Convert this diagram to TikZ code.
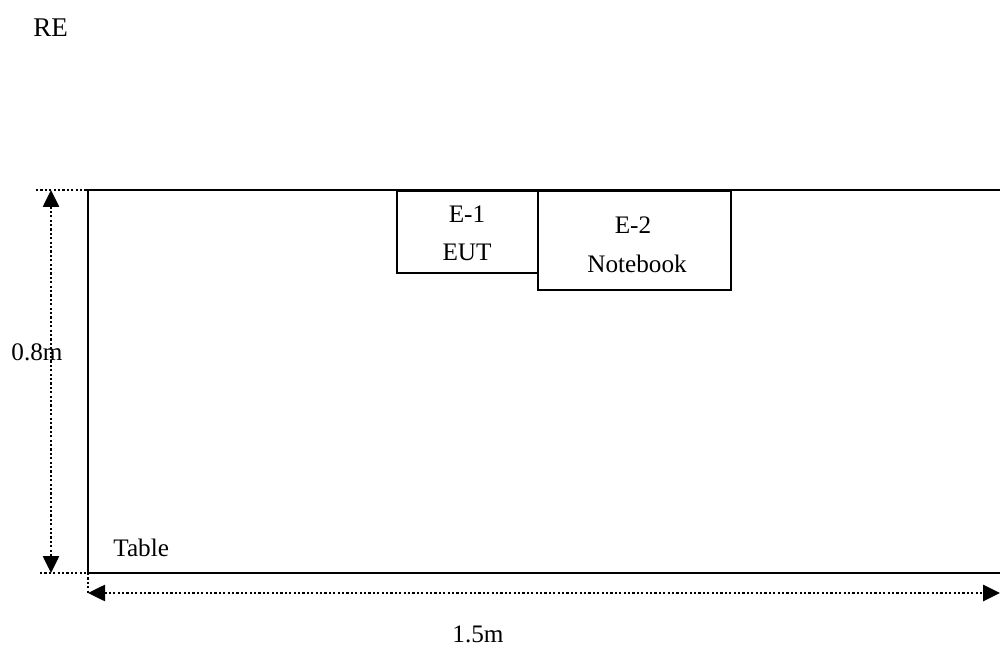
\documentclass[tikz,border=0pt]{standalone}
\usepackage{fontspec}
\setmainfont{Liberation Serif}
\usetikzlibrary{arrows.meta}
\begin{document}
\begin{tikzpicture}[x=0.5pt,y=-0.5pt,
  solidline/.style={line width=1.1pt,black},
  dimline/.style={line width=1.3pt,dash pattern=on 1.1pt off 1.1pt,black},
  dimarrow/.style={dimline,{Triangle[length=8.5pt,width=8pt]}-{Triangle[length=8.5pt,width=8pt]}},
  equip/.style={draw,line width=1pt,rectangle,inner sep=0pt,anchor=north west},
  lbl/.style={font=\fontsize{12.6}{14.5}\selectfont,inner sep=0pt}]
\useasboundingbox (0,0) rectangle (1000,651);
% table outline
\coordinate (tl) at (88,190);
\coordinate (bl) at (88,573);
\coordinate (tr) at (1000,190);
\coordinate (br) at (1000,573);
\draw[solidline] (tr) -- (tl) -- (bl) -- (br);
% equipment
\node[equip,minimum width=70.5pt,minimum height=41pt] (e1) at (396,190) {};
\node[lbl] at (467,214) {E-1};
\node[lbl] at (467,252) {EUT};
\node[equip,minimum width=96.5pt,minimum height=49.5pt] (e2) at (537,190) {};
\node[lbl] at (633,225) {E-2};
\node[lbl] at (637,264) {Notebook};
% dimension lines
\coordinate (ht) at (36,190);
\coordinate (hb) at (40,573);
\draw[dimline] (ht) -- (tl);
\draw[dimline] (hb) -- (bl);
\coordinate (va) at (51,190);
\coordinate (vb) at (51,573);
\draw[dimarrow] (va) -- (vb);
\coordinate (wb) at (88,593);
\draw[dimline] (bl) -- (wb);
\coordinate (wa) at (1000,593);
\draw[dimarrow] (wb) -- (wa);
% labels
\node[lbl] (h) at (37,352) {0.8m};
\node[lbl,anchor=west] (tab) at (113,548) {Table};
\node[lbl] (w) at (478,634) {1.5m};
\node[lbl,anchor=west,font=\fontsize{13.5}{15}\selectfont] (re) at (33,28) {RE};
\end{tikzpicture}
\end{document}
